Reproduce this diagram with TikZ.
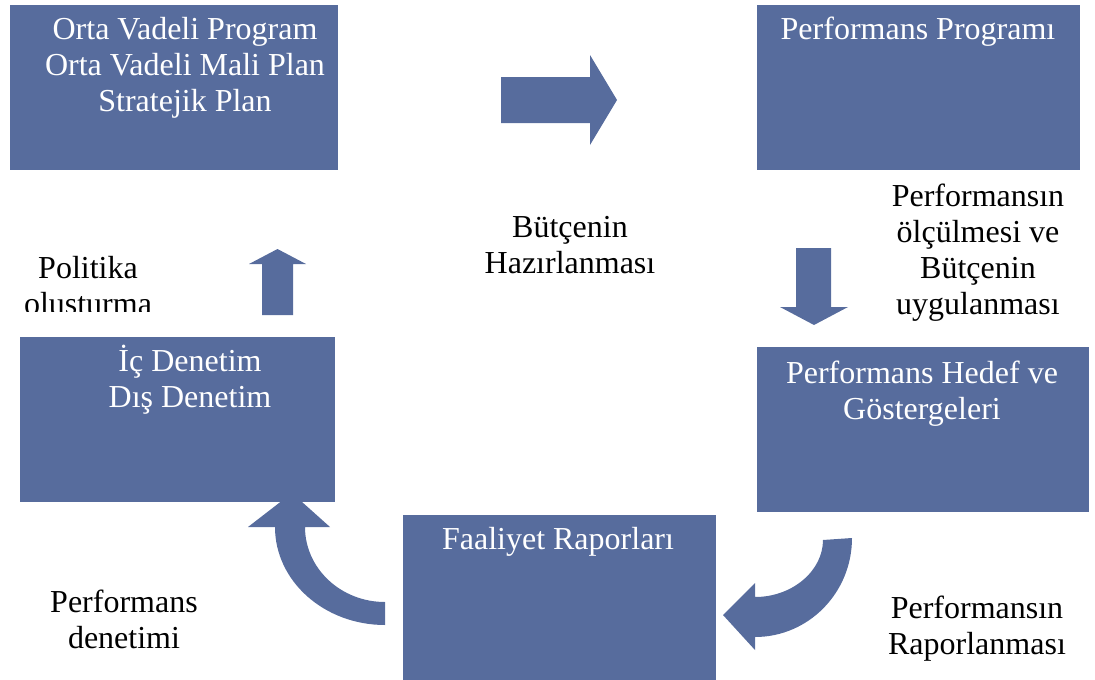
\documentclass[tikz,border=0pt]{standalone}
\usepackage{fontspec}
\setmainfont{Liberation Serif}
\definecolor{boxblue}{RGB}{87,108,157}
\begin{document}
\begin{tikzpicture}[x=1pt,y=-1pt,
  panel/.style={fill=boxblue, draw=none, inner sep=0pt, anchor=north west},
  paneltext/.style={text=white, font=\fontsize{32}{36}\selectfont, align=center, inner sep=0pt},
  caption/.style={text=black, font=\fontsize{32}{36}\selectfont, align=center, inner sep=0pt},
  blockarrow/.style={fill=boxblue, draw=none}]
\useasboundingbox (0,0) rectangle (1095,680);

% panels
\node[panel, minimum width=328pt, minimum height=165pt] (plan) at (10,5) {};
\node[panel, minimum width=323pt, minimum height=165pt] (prog) at (757,5) {};
\node[panel, minimum width=315pt, minimum height=165pt] (audit) at (20,337) {};
\node[panel, minimum width=332pt, minimum height=165pt] (goals) at (757,347) {};
\node[panel, minimum width=313pt, minimum height=165pt] (report) at (403,515) {};

% panel texts
\node[paneltext] (plantext) at (185,68) {Orta Vadeli Program\\Orta Vadeli Mali Plan\\Stratejik Plan};
\node[paneltext] (progtext) at (918,32) {Performans Programı};
\node[paneltext] (audittext) at (190,380) {İç Denetim\\Dış Denetim};
\node[paneltext] (goalstext) at (922,394) {Performans Hedef ve\\Göstergeleri};
\node[paneltext] (reporttext) at (558,542) {Faaliyet Raporları};

% captions
\node[caption] (prep) at (570,245) {Bütçenin\\Hazırlanması};
\node[caption] (measure) at (978,253) {Performansın\\ölçülmesi ve\\Bütçenin\\uygulanması};
\begin{scope}
  \clip (0,240) rectangle (220,311);
  \node[caption] (policy) at (88,289) {Politika\\oluşturma};
\end{scope}
\node[caption] (inspect) at (124,619) {Performans\\denetimi};
\node[caption] (reporting) at (977,629) {Performansın\\Raporlanması};

% straight block arrows
\fill[blockarrow] (501,77) -- (590,77) -- (590,55) -- (617,100) -- (590,145) -- (590,123) -- (501,123) -- cycle;
\fill[blockarrow] (796,248) -- (831,248) -- (831,307) -- (848,307) -- (814,325) -- (780,307) -- (796,307) -- cycle;
\fill[blockarrow] (262,315) -- (262,264) -- (249,264) -- (277.5,249) -- (306,264) -- (293,264) -- (293,315) -- cycle;

% curved block arrows
\fill[blockarrow] (275,527) -- (248,527) -- (292,493) -- (330,527) -- (305,527)
  .. controls (305,568.4) and (340.8,602) .. (385,602) -- (385,625)
  .. controls (324.2,625) and (275,581.1) .. (275,527) -- cycle;
\fill[blockarrow] (823,540) -- (852,538)
  .. controls (852,592.7) and (808.6,637) .. (755,637) -- (755,650) -- (723,615) -- (755,583) -- (755,597)
  .. controls (792.6,597) and (823,570.6) .. (823,540) -- cycle;
\end{tikzpicture}
\end{document}
